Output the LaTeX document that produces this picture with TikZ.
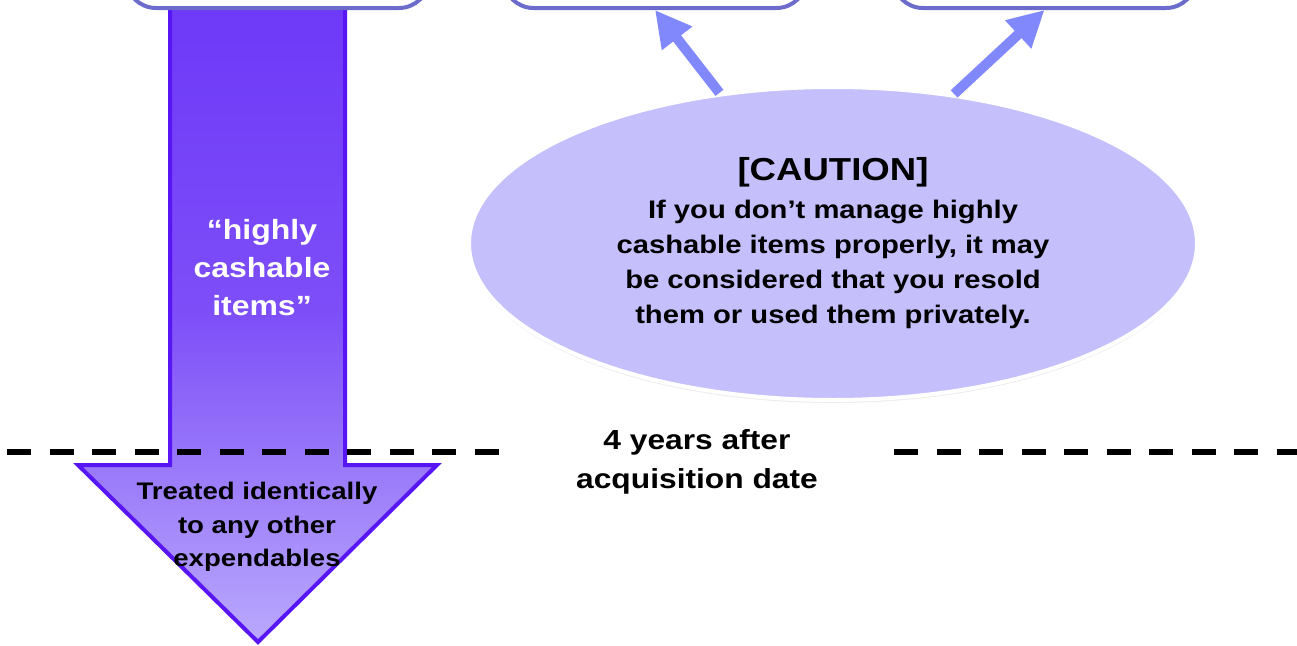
\documentclass[tikz,border=0pt]{standalone}
\usepackage{fontspec}
\setmainfont{Liberation Sans}[FakeStretch = 1.15]
\usetikzlibrary{arrows.meta, shapes.geometric, shadows}

\definecolor{boxline}{RGB}{108,108,204}
\definecolor{shaftline}{RGB}{88,22,245}
\definecolor{shafttop}{RGB}{109,55,248}
\definecolor{shaftmid}{RGB}{125,78,248}
\definecolor{shaftbottom}{RGB}{185,169,252}
\definecolor{cautionfill}{RGB}{197,192,252}
\definecolor{pointerblue}{RGB}{128,136,252}

\tikzset{
	topbox/.style = {draw = boxline, line width = 4pt, fill = white, rounded corners = 30pt, minimum width = 303pt, minimum height = 80pt},
	caution/.style = {ellipse, draw = white, line width = 4pt, fill = cautionfill, minimum width = 728pt, minimum height = 313pt, drop shadow = {opacity = 0.15, shadow xshift = 0pt, shadow yshift = -3pt}},
	pointerarrow/.style = {draw = pointerblue, line width = 10pt, -{Triangle[length = 36pt, width = 36pt]}},
	cutline/.style = {line width = 6pt, dash pattern = on 24pt off 18.5pt, dash phase = 35.5pt}
}

\begin{document}
\begin{tikzpicture}[x = 1pt, y = -1pt]

	% Definitions
	
	\def\xl{170}		% Left edge of the shaft
	\def\xr{345}		% Right edge of the shaft
	\def\yh{465}		% Top of the arrow head
	\def\xt{258}		% Tip of the arrow head
	
	\useasboundingbox (0, 0) rectangle (1297, 645);
	\clip (0, 0) rectangle (1297, 645);
	
	% Big downward arrow
	
	\draw [draw = shaftline, line width = 4pt, top color = shafttop, bottom color = shaftbottom, middle color = shaftmid] (\xl, -20) -- (\xl, \yh) -- (78, \yh) -- (\xt, 642) -- (437, \yh) -- (\xr, \yh) -- (\xr, -20) -- cycle;
	
	\node [text = white, font = \fontsize{27.8}{38}\selectfont\bfseries, align = center] (cashable) at (262, 268) {“highly\\cashable\\items”};
	\node [font = \fontsize{24}{33.5}\selectfont\bfseries, align = center] (treated) at (257, 527) {Treated identically\\to any other\\expendables};
	
	% Dashed line and its label
	
	\node [font = \fontsize{27.6}{39}\selectfont\bfseries, align = center, inner xsep = 76pt] (years) at (697, 462) {4 years after\\acquisition date};
	\coordinate (cutW) at (0, 452);
	\coordinate (cutE) at (1297, 452);
	\draw [cutline] (cutW) -- (years.west |- cutW);
	\draw [cutline, dash phase = 0pt] (years.east |- cutE) -- (cutE);
	
	% Caution ellipse
	
	\node [caution, align = center, font = \fontsize{25.4}{35}\selectfont\bfseries] (warn) at (833, 243.5) {{\fontsize{31.8}{38}\selectfont [CAUTION]}\\[3pt]If you don’t manage highly\\cashable items properly, it may\\be considered that you resold\\them or used them privately.};
	
	% Boxes at the top, cut off by the frame
	
	\node [topbox] (box1) at (277.5, -32) {};
	\node [topbox] (box2) at (655, -32) {};
	\node [topbox] (box3) at (1044.5, -32) {};
	
	% Pointers from the caution to the boxes
	
	\draw [pointerarrow] (warn.127) -- (box2.south);
	\draw [pointerarrow] (warn.51) -- (box3.south);
	
\end{tikzpicture}
\end{document}
